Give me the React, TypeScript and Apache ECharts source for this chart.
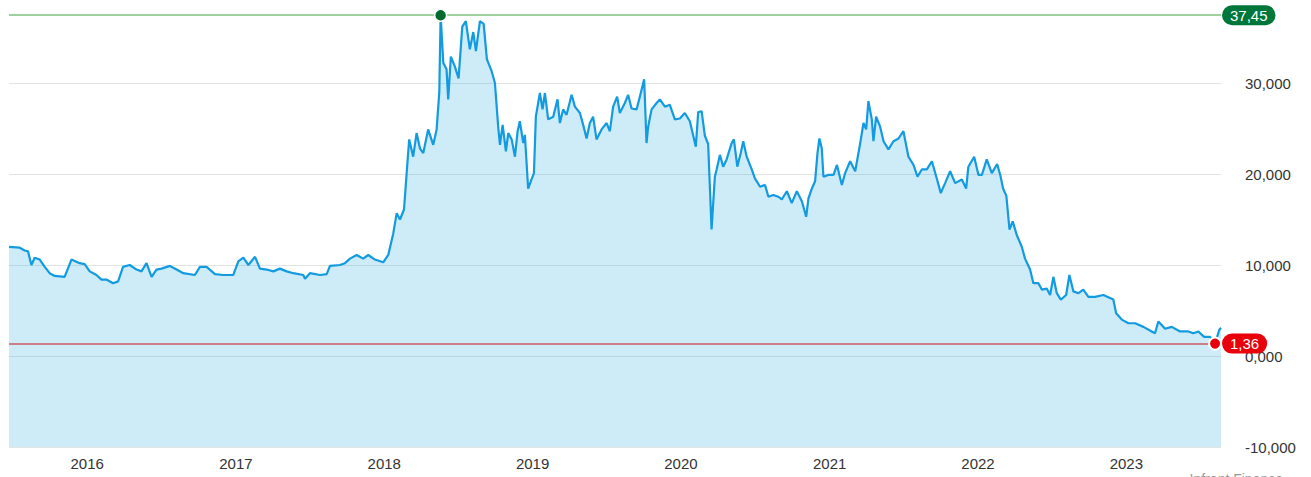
import { useEffect, useRef } from "react";
import * as echarts from "echarts";

// Dates as decimal years (e.g. 2018.380 ≈ 19 May 2018)
const dates: number[] = [
  2015.473, 2015.545, 2015.579, 2015.601, 2015.624, 2015.646, 2015.680, 2015.714, 2015.747, 2015.781,
  2015.848, 2015.894, 2015.949, 2015.983, 2016.017, 2016.062, 2016.096, 2016.129, 2016.174, 2016.208,
  2016.241, 2016.286, 2016.332, 2016.365, 2016.399, 2016.433, 2016.466, 2016.500, 2016.556, 2016.601,
  2016.646, 2016.724, 2016.758, 2016.803, 2016.859, 2016.915, 2016.982, 2017.016, 2017.050, 2017.084,
  2017.129, 2017.162, 2017.208, 2017.252, 2017.297, 2017.342, 2017.387, 2017.454, 2017.466, 2017.499,
  2017.567, 2017.612, 2017.634, 2017.701, 2017.735, 2017.769, 2017.814, 2017.858, 2017.892, 2017.937,
  2017.993, 2018.027, 2018.061, 2018.084, 2018.106, 2018.133, 2018.151, 2018.168, 2018.195, 2018.218,
  2018.241, 2018.263, 2018.296, 2018.330, 2018.353, 2018.371, 2018.380, 2018.398, 2018.420, 2018.431,
  2018.449, 2018.476, 2018.501, 2018.526, 2018.550, 2018.577, 2018.600, 2018.618, 2018.645, 2018.670,
  2018.692, 2018.724, 2018.746, 2018.768, 2018.780, 2018.798, 2018.820, 2018.836, 2018.859, 2018.881,
  2018.899, 2018.914, 2018.937, 2018.948, 2018.970, 2018.993, 2019.009, 2019.022, 2019.049, 2019.067,
  2019.083, 2019.105, 2019.139, 2019.168, 2019.184, 2019.206, 2019.229, 2019.263, 2019.285, 2019.319,
  2019.341, 2019.364, 2019.386, 2019.408, 2019.431, 2019.465, 2019.499, 2019.521, 2019.543, 2019.570,
  2019.588, 2019.622, 2019.644, 2019.667, 2019.701, 2019.723, 2019.752, 2019.768, 2019.779, 2019.802,
  2019.836, 2019.858, 2019.892, 2019.925, 2019.959, 2019.993, 2020.026, 2020.060, 2020.100, 2020.116,
  2020.139, 2020.161, 2020.183, 2020.206, 2020.228, 2020.240, 2020.262, 2020.284, 2020.307, 2020.341,
  2020.356, 2020.379, 2020.402, 2020.419, 2020.442, 2020.476, 2020.498, 2020.532, 2020.565, 2020.588,
  2020.621, 2020.655, 2020.678, 2020.712, 2020.745, 2020.779, 2020.813, 2020.842, 2020.857, 2020.880,
  2020.902, 2020.918, 2020.931, 2020.947, 2020.958, 2020.992, 2021.026, 2021.049, 2021.082, 2021.104,
  2021.138, 2021.172, 2021.206, 2021.228, 2021.246, 2021.261, 2021.284, 2021.295, 2021.313, 2021.340,
  2021.363, 2021.396, 2021.430, 2021.464, 2021.497, 2021.531, 2021.565, 2021.592, 2021.621, 2021.655,
  2021.689, 2021.722, 2021.749, 2021.778, 2021.812, 2021.846, 2021.891, 2021.920, 2021.935, 2021.974,
  2022.003, 2022.026, 2022.059, 2022.093, 2022.129, 2022.151, 2022.169, 2022.191, 2022.212, 2022.234,
  2022.261, 2022.295, 2022.317, 2022.351, 2022.373, 2022.407, 2022.430, 2022.464, 2022.486, 2022.508,
  2022.531, 2022.558, 2022.594, 2022.616, 2022.643, 2022.677, 2022.710, 2022.744, 2022.789, 2022.845,
  2022.912, 2022.931, 2022.969, 2023.014, 2023.059, 2023.115, 2023.171, 2023.193, 2023.216, 2023.261,
  2023.306, 2023.362, 2023.418, 2023.451, 2023.485, 2023.524, 2023.564, 2023.598, 2023.627, 2023.638,
];

const prices: number[] = [
  12.0, 11.9, 11.6, 11.5, 10.0, 10.8, 10.6, 9.8, 9.1, 8.8,
  8.7, 10.6, 10.2, 10.1, 9.3, 8.9, 8.4, 8.4, 8.0, 8.2,
  9.8, 10.0, 9.5, 9.3, 10.2, 8.7, 9.5, 9.6, 9.9, 9.5,
  9.1, 8.9, 9.8, 9.8, 9.0, 8.9, 8.9, 10.4, 10.8, 10.0,
  10.9, 9.6, 9.5, 9.3, 9.6, 9.3, 9.1, 8.9, 8.5, 9.1,
  8.9, 9.0, 9.9, 10.0, 10.2, 10.7, 11.1, 10.7, 11.1, 10.6,
  10.3, 11.1, 13.5, 15.7, 15.0, 16.1, 20.1, 23.8, 21.9, 24.5,
  22.8, 22.3, 24.9, 23.2, 24.9, 29.0, 37.45, 32.2, 31.5, 28.2,
  32.9, 31.8, 30.5, 36.2, 36.8, 33.7, 35.6, 33.5, 36.8, 36.5,
  32.6, 31.3, 30.0, 25.2, 23.2, 25.4, 22.5, 24.5, 23.8, 21.9,
  24.7, 25.8, 23.4, 24.3, 18.4, 19.4, 20.1, 26.3, 28.9, 27.1,
  28.9, 26.0, 26.3, 28.2, 25.6, 27.1, 26.5, 28.7, 27.4, 26.7,
  25.4, 23.9, 25.6, 26.3, 23.8, 24.9, 25.6, 24.7, 27.4, 28.5,
  26.7, 27.8, 28.7, 27.2, 27.1, 28.5, 30.4, 23.4, 25.2, 27.1,
  27.8, 28.2, 27.4, 27.6, 26.0, 26.1, 26.7, 25.8, 23.0, 26.8,
  26.9, 24.2, 23.3, 13.9, 19.7, 20.5, 22.1, 20.8, 21.6, 23.4,
  23.8, 20.8, 22.3, 23.6, 21.9, 20.5, 19.5, 18.6, 18.8, 17.5,
  17.7, 17.5, 17.2, 18.1, 16.8, 18.1, 17.0, 15.3, 17.3, 18.4,
  19.2, 22.3, 23.9, 22.8, 19.7, 19.9, 19.9, 21.0, 18.8, 20.1,
  21.4, 20.3, 23.4, 25.6, 24.9, 28.0, 26.0, 23.6, 26.3, 25.2,
  23.6, 22.7, 23.6, 23.9, 24.7, 21.9, 21.0, 19.7, 20.5, 20.5,
  21.4, 19.5, 17.9, 19.0, 20.3, 19.0, 19.4, 18.4, 20.8, 21.9,
  19.9, 19.9, 21.6, 20.1, 21.1, 19.8, 18.4, 17.6, 13.9, 14.8,
  13.3, 12.0, 10.7, 9.5, 8.0, 8.0, 7.3, 7.4, 6.7, 8.7,
  6.9, 6.2, 6.7, 8.9, 7.1, 6.9, 7.3, 6.5, 6.5, 6.7,
  6.2, 4.7, 4.0, 3.6, 3.6, 3.2, 2.7, 2.5, 3.8, 3.0,
  3.2, 2.7, 2.7, 2.5, 2.7, 2.1, 2.1, 1.36, 2.9, 3.1,
];

const yMin = -10;
const yMax = 40;
const yInterval = 10;
const watermark = "Infront Finance";

const FONT = "'Liberation Sans', Arial, sans-serif";

function toTimestamp(t: number): number {
  const y = Math.floor(t);
  const start = Date.UTC(y, 0, 1);
  const end = Date.UTC(y + 1, 0, 1);
  return start + (t - y) * (end - start);
}

const fmtAxis = (v: number) => v.toFixed(3).replace(".", ",");
const fmtPrice = (v: number) => v.toFixed(2).replace(".", ",");

export default function App() {
  const ref = useRef<HTMLDivElement>(null);

  useEffect(() => {
    document.body.style.margin = "0";
    if (!ref.current) return;
    const chart = echarts.init(ref.current, undefined, { renderer: "svg" });
    const seriesData = dates.map((d, i) => [toTimestamp(d), prices[i]]);
    const DAY = 24 * 3600 * 1000;

    chart.setOption({
      animation: false,
      useUTC: true,
      backgroundColor: "#ffffff",
      grid: {
        left: 9,
        right: 90,
        top: -8,
        bottom: 30,
        containLabel: false,
        outerBoundsMode: "none",
      },
      xAxis: {
        type: "time",
        min: toTimestamp(dates[0]),
        max: toTimestamp(dates[dates.length - 1]),
        minInterval: 365 * DAY,
        maxInterval: 366 * DAY,
        axisLine: { show: false },
        axisTick: { show: false },
        splitLine: { show: false },
        axisLabel: {
          showMinLabel: false,
          showMaxLabel: false,
          color: "#333",
          fontSize: 15,
          fontFamily: FONT,
          margin: 9,
          formatter: (v: number) => String(new Date(v).getUTCFullYear()),
        },
      },
      yAxis: {
        type: "value",
        position: "right",
        min: yMin,
        max: yMax,
        interval: yInterval,
        axisLine: { show: false },
        axisTick: { show: false },
        splitLine: { show: true, lineStyle: { color: "#e3e3e3", width: 1 } },
        axisLabel: {
          showMaxLabel: false,
          color: "#333",
          fontSize: 15,
          fontFamily: FONT,
          margin: 24,
          formatter: (v: number) => fmtAxis(v),
        },
      },
      graphic: [
        {
          type: "text",
          right: 28,
          top: 472,
          style: { text: watermark, fill: "#9a9a9a", fontSize: 14, fontFamily: FONT },
          z: 10,
        },
      ],
      series: [
        {
          type: "line",
          data: seriesData,
          showSymbol: false,
          symbol: "none",
          lineStyle: { color: "#129be0", width: 2.2 },
          areaStyle: { color: "rgba(26,160,224,0.31)", origin: "start" },
          markLine: {
            silent: true,
            symbol: ["none", "none"],
            animation: false,
            data: [
              {
                type: "max",
                lineStyle: { color: "#7cc27c", width: 1.5, type: "solid" },
                label: {
                  show: true,
                  position: "end",
                  distance: 1,
                  formatter: (p: any) => fmtPrice(p.value),
                  color: "#fff",
                  backgroundColor: "#00773a",
                  borderRadius: 10,
                  padding: [2, 8],
                  fontSize: 15,
                  lineHeight: 16,
                  fontFamily: FONT,
                },
              },
              {
                type: "min",
                lineStyle: { color: "#cc5a60", width: 1.5, type: "solid" },
                label: {
                  show: true,
                  position: "end",
                  distance: 1,
                  formatter: (p: any) => fmtPrice(p.value),
                  color: "#fff",
                  backgroundColor: "#e8000b",
                  borderRadius: 10,
                  padding: [2, 8],
                  fontSize: 15,
                  lineHeight: 16,
                  fontFamily: FONT,
                },
              },
            ],
          },
          markPoint: {
            silent: true,
            animation: false,
            symbol: "circle",
            symbolSize: 12,
            label: { show: false },
            data: [
              { type: "max", itemStyle: { color: "#006b2e", borderColor: "#ffffff", borderWidth: 1.5 } },
              { type: "min", itemStyle: { color: "#e8000b", borderColor: "#ffffff", borderWidth: 2 } },
            ],
          },
        },
      ],
    });

    return () => chart.dispose();
  }, []);

  return <div ref={ref} style={{ width: 1311, height: 477 }} />;
}
